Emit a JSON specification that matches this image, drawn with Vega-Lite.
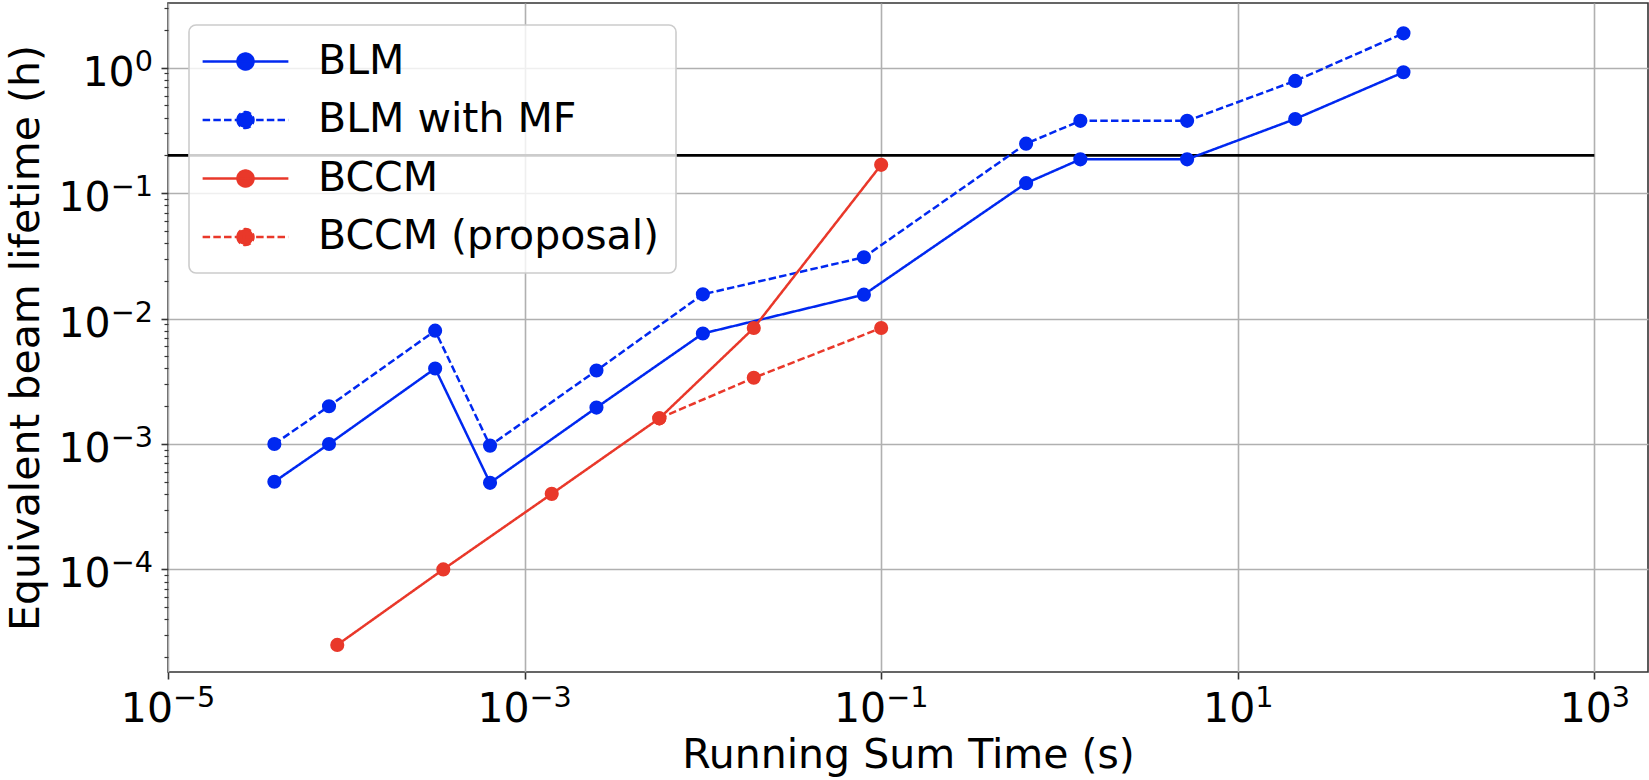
{
  "$schema": "https://vega.github.io/schema/vega-lite/v6.json",
  "width": 1480,
  "height": 669,
  "autosize": "none",
  "padding": {"left": 168, "top": 3, "right": 1, "bottom": 108},
  "background": "white",
  "config": {
    "font": "DejaVu Sans",
    "view": {"stroke": "#333333", "strokeWidth": 1.6},
    "axis": {
      "domain": false,
      "gridColor": "#b0b0b0",
      "gridWidth": 1.6,
      "tickColor": "#333333",
      "tickWidth": 1.6,
      "labelFont": "DejaVu Sans",
      "labelFontSize": 41,
      "labelColor": "black",
      "labelOverlap": false,
      "labelFlush": false,
      "labelBound": false,
      "titleFont": "DejaVu Sans",
      "titleFontSize": 41,
      "titleFontWeight": "normal",
      "titleColor": "black"
    },
    "legend": {
      "labelFont": "DejaVu Sans",
      "labelFontSize": 41,
      "labelColor": "black",
      "labelLimit": 800,
      "fillColor": "rgba(255,255,255,0.8)",
      "strokeColor": "#cccccc",
      "strokeWidth": 1.6,
      "cornerRadius": 7,
      "padding": 16,
      "rowPadding": 16.5,
      "symbolOffset": 20,
      "labelOffset": 52,
      "symbolSize": 256,
      "symbolStrokeWidth": 2.5,
      "symbolType": "M-5.36,0L5.36,0M-1,0A1,1,0,1,1,1,0A1,1,0,1,1,-1,0Z"
    }
  },
  "datasets": {
    "series": [
      {"t": 3.95e-5, "life": 5.0e-4, "series": "BLM"},
      {"t": 8.0e-5, "life": 1.0e-3, "series": "BLM"},
      {"t": 3.15e-4, "life": 4.0e-3, "series": "BLM"},
      {"t": 6.4e-4, "life": 4.9e-4, "series": "BLM"},
      {"t": 2.53e-3, "life": 1.95e-3, "series": "BLM"},
      {"t": 1.0e-2, "life": 7.6e-3, "series": "BLM"},
      {"t": 8.0e-2, "life": 1.55e-2, "series": "BLM"},
      {"t": 0.65, "life": 0.12, "series": "BLM"},
      {"t": 1.31, "life": 0.186, "series": "BLM"},
      {"t": 5.2, "life": 0.186, "series": "BLM"},
      {"t": 21, "life": 0.39, "series": "BLM"},
      {"t": 85, "life": 0.92, "series": "BLM"},
      {"t": 3.95e-5, "life": 1.0e-3, "series": "BLM with MF"},
      {"t": 8.0e-5, "life": 2.0e-3, "series": "BLM with MF"},
      {"t": 3.15e-4, "life": 8.0e-3, "series": "BLM with MF"},
      {"t": 6.4e-4, "life": 9.7e-4, "series": "BLM with MF"},
      {"t": 2.53e-3, "life": 3.85e-3, "series": "BLM with MF"},
      {"t": 1.0e-2, "life": 1.56e-2, "series": "BLM with MF"},
      {"t": 8.0e-2, "life": 3.08e-2, "series": "BLM with MF"},
      {"t": 0.65, "life": 0.248, "series": "BLM with MF"},
      {"t": 1.31, "life": 0.377, "series": "BLM with MF"},
      {"t": 5.2, "life": 0.377, "series": "BLM with MF"},
      {"t": 21, "life": 0.785, "series": "BLM with MF"},
      {"t": 85, "life": 1.88, "series": "BLM with MF"},
      {"t": 8.9e-5, "life": 2.5e-5, "series": "BCCM"},
      {"t": 3.5e-4, "life": 1.0e-4, "series": "BCCM"},
      {"t": 1.42e-3, "life": 4.0e-4, "series": "BCCM"},
      {"t": 5.7e-3, "life": 1.6e-3, "series": "BCCM"},
      {"t": 1.93e-2, "life": 8.4e-3, "series": "BCCM"},
      {"t": 0.1, "life": 0.168, "series": "BCCM"},
      {"t": 5.7e-3, "life": 1.6e-3, "series": "BCCM (proposal)"},
      {"t": 1.93e-2, "life": 3.37e-3, "series": "BCCM (proposal)"},
      {"t": 0.1, "life": 8.4e-3, "series": "BCCM (proposal)"}
    ],
    "ref": [{"t": 1e-5, "t2": 1000, "life": 0.2}]
  },
  "resolve": {"axis": {"x": "independent", "y": "independent"}},
  "layer": [
    {
      "data": {"name": "ref"},
      "mark": {"type": "rule", "color": "black", "strokeWidth": 2.6},
      "encoding": {
        "x": {
          "field": "t", "type": "quantitative",
          "scale": {"type": "log", "domain": [1e-5, 2000], "nice": false, "zero": false},
          "axis": {
            "orient": "bottom",
            "grid": true,
            "title": "Running Sum Time (s)",
            "values": [1e-5, 1e-3, 0.1, 10, 1000],
            "tickSize": 7,
            "labelAlign": "right",
            "labelBaseline": "alphabetic",
            "labelPadding": 42,
            "labelOffset": {"condition": {"test": "datum.value < 1", "value": 4.5}, "value": 17},
            "titleY": 95,
            "titleBaseline": "alphabetic",
            "labelExpr": "'10'"
          }
        },
        "x2": {"field": "t2"},
        "y": {
          "field": "life", "type": "quantitative",
          "scale": {"type": "log", "domain": [1.52e-5, 3.28], "nice": false, "zero": false},
          "axis": {
            "orient": "left",
            "grid": true,
            "title": "Equivalent beam lifetime (h)",
            "values": [2e-5, 3e-5, 4e-5, 5e-5, 6e-5, 7e-5, 8e-5, 9e-5, 1e-4, 2e-4, 3e-4, 4e-4, 5e-4, 6e-4, 7e-4, 8e-4, 9e-4, 1e-3, 2e-3, 3e-3, 4e-3, 5e-3, 6e-3, 7e-3, 8e-3, 9e-3, 1e-2, 2e-2, 3e-2, 4e-2, 5e-2, 6e-2, 7e-2, 8e-2, 9e-2, 0.1, 0.2, 0.3, 0.4, 0.5, 0.6, 0.7, 0.8, 0.9, 1, 2, 3],
            "tickSize": {"condition": {"test": "abs(log(datum.value)/LN10 - round(log(datum.value)/LN10)) < 0.001", "value": 7}, "value": 4},
            "tickWidth": {"condition": {"test": "abs(log(datum.value)/LN10 - round(log(datum.value)/LN10)) < 0.001", "value": 1.6}, "value": 1.2},
            "gridOpacity": {"condition": {"test": "abs(log(datum.value)/LN10 - round(log(datum.value)/LN10)) < 0.001", "value": 1}, "value": 0},
            "labelBaseline": "alphabetic",
            "labelPadding": {"condition": {"test": "datum.value < 0.5", "value": 50.8}, "value": 26.8},
            "labelOffset": 17.6,
            "titleX": -130,
            "titleBaseline": "alphabetic",
            "labelExpr": "abs(log(datum.value)/LN10 - round(log(datum.value)/LN10)) < 0.001 ? '10' : ''"
          }
        }
      }
    },
    {
      "data": {"name": "series"},
      "mark": {"type": "line", "strokeWidth": 2.5},
      "encoding": {
        "x": {
          "field": "t", "type": "quantitative",
          "axis": {
            "orient": "bottom",
            "grid": false,
            "title": null,
            "values": [1e-5, 1e-3, 0.1, 10, 1000],
            "tickSize": 7,
            "tickOpacity": 0,
            "labelAlign": "left",
            "labelBaseline": "alphabetic",
            "labelFontSize": 28.7,
            "labelPadding": 27,
            "labelOffset": {"condition": {"test": "datum.value < 1", "value": 4.5}, "value": 17},
            "labelExpr": "(round(log(datum.value)/LN10) < 0 ? '−' : '') + abs(round(log(datum.value)/LN10))"
          }
        },
        "y": {
          "field": "life", "type": "quantitative",
          "axis": {
            "orient": "left",
            "grid": false,
            "title": null,
            "values": [1e-4, 1e-3, 1e-2, 0.1, 1],
            "tickSize": 7,
            "tickOpacity": 0,
            "labelBaseline": "alphabetic",
            "labelFontSize": 28.7,
            "labelPadding": 8.5,
            "labelOffset": 2.6,
            "labelExpr": "(round(log(datum.value)/LN10) < 0 ? '−' : '') + abs(round(log(datum.value)/LN10))"
          }
        },
        "color": {
          "field": "series", "type": "nominal",
          "scale": {"domain": ["BLM", "BLM with MF", "BCCM", "BCCM (proposal)"], "range": ["#0028f0", "#0028f0", "#e9382a", "#e9382a"]},
          "legend": {
            "title": null, "orient": "none", "legendX": 21, "legendY": 22,
            "encode": {"symbols": {"update": {"fill": {"scale": "color", "field": "value"}}}}
          }
        },
        "strokeDash": {
          "field": "series", "type": "nominal",
          "scale": {"domain": ["BLM", "BLM with MF", "BCCM", "BCCM (proposal)"], "range": [[1, 0], [7.5, 3.2], [1, 0], [7.5, 3.2]]},
          "legend": {
            "title": null, "orient": "none", "legendX": 21, "legendY": 22,
            "encode": {"symbols": {"update": {"fill": {"scale": "color", "field": "value"}}}}
          }
        }
      }
    },
    {
      "data": {"name": "series"},
      "mark": {"type": "point", "filled": true, "size": 200, "opacity": 1},
      "encoding": {
        "x": {"field": "t", "type": "quantitative", "axis": null},
        "y": {"field": "life", "type": "quantitative", "axis": null},
        "color": {"field": "series", "type": "nominal", "legend": null}
      }
    }
  ]
}
